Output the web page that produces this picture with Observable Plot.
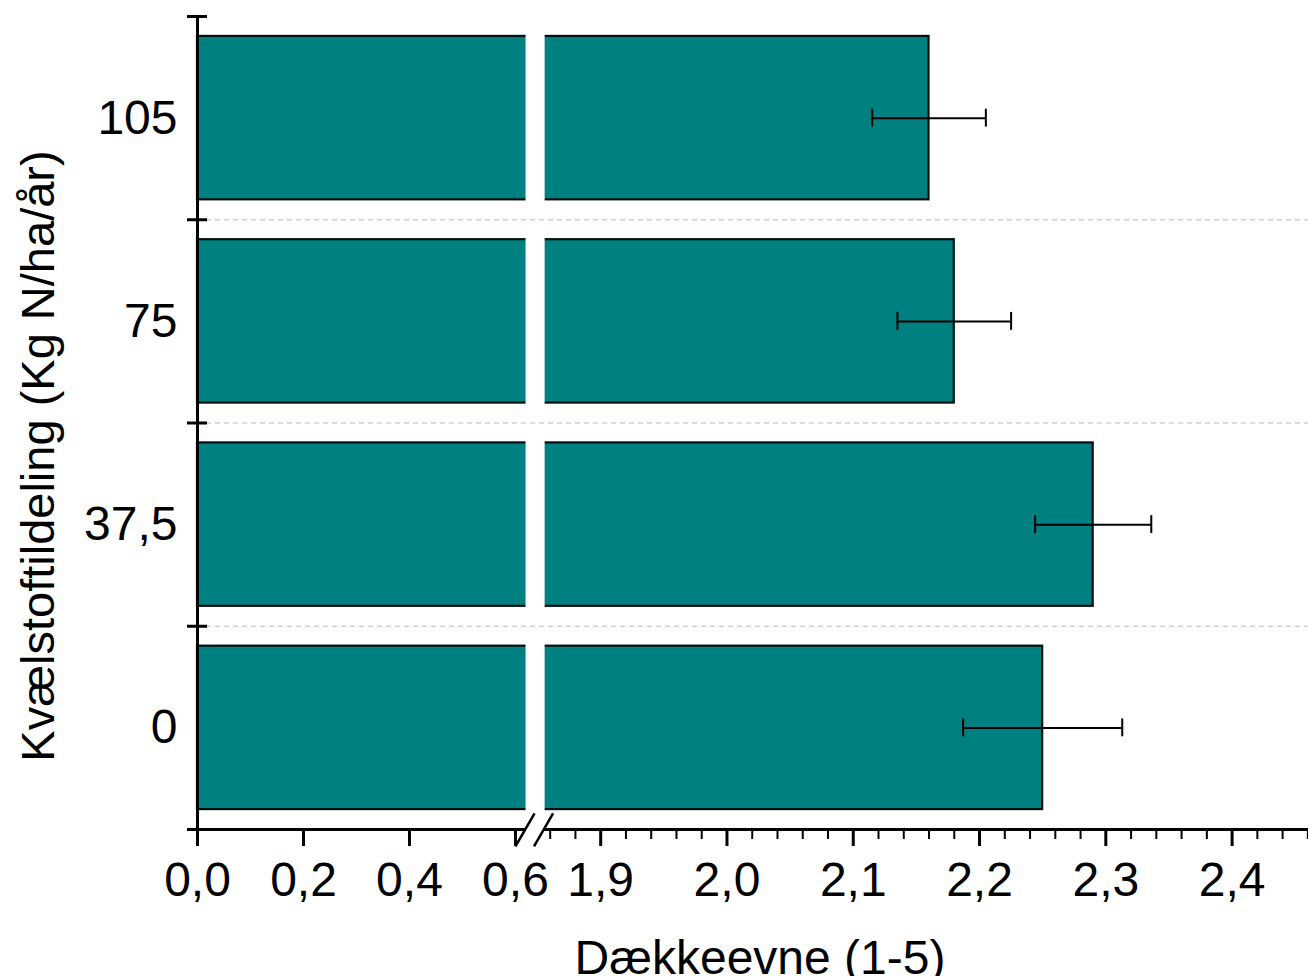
<!DOCTYPE html>
<html>
<head>
<meta charset="utf-8">
<script src="https://cdn.jsdelivr.net/npm/d3@7"></script>
<script src="https://cdn.jsdelivr.net/npm/@observablehq/plot@0.6"></script>
<style>
  html, body { margin: 0; padding: 0; background: white; }
</style>
</head>
<body>
<script>
// ---- Data ----
const categories = ["105", "75", "37,5", "0"];          // top to bottom
const means = [2.16, 2.18, 2.29, 2.25];                  // Dækkeevne (1-5)
const errors = [0.045, 0.045, 0.046, 0.063];             // error bar half-widths
const leftTicks = [0, 0.2, 0.4, 0.6];
const rightTicks = [1.9, 2.0, 2.1, 2.2, 2.3, 2.4];
const xTitle = "Dækkeevne (1-5)";
const yTitle = "Kvælstoftildeling (Kg N/ha/år)";

// ---- Broken axis mapping ----
const leftCut = 0.62;      // left segment ends
const rightStart = 1.856;  // right segment starts
const gap = 0.036;         // gap width (in left-segment units)
const ratio = 2.383;       // right-segment stretch relative to left
const u = v => v <= 1 ? v : leftCut + gap + (v - rightStart) * ratio;
const uMax = u(2.4605);

const rows = categories.map((c, i) => ({
  cat: c, pos: categories.length - 1 - i, mean: means[i], err: errors[i]
}));

const fmt = v => v.toFixed(1).replace(".", ",");
const majorU = [...leftTicks.map(u), ...rightTicks.map(u)];
const majorLabels = new Map(majorU.map((m, i) => [m, fmt([...leftTicks, ...rightTicks][i])]));
const minorU = d3.range(93, 124).map(k => k * 0.02)
  .filter(v => Math.abs(Math.round(v * 10) - v * 10) > 1e-6)
  .map(u);

const inset = 0.098;
const capH = 0.044;
const pxX = 1 / 530; // one pixel in u units (approx)

const font = "'Liberation Sans', Arial, sans-serif";

const chart = Plot.plot({
  width: 1308,
  height: 976,
  marginLeft: 197,
  marginRight: 0,
  marginTop: 16,
  marginBottom: 147,
  style: { fontFamily: font, background: "white", color: "black" },
  x: { domain: [0, uMax] },
  y: { domain: [0, 4] },
  marks: [
    Plot.ruleY([1, 2, 3], { stroke: "#d0d0d0", strokeWidth: 1.5, strokeDasharray: "5,4" }),
    Plot.rect(rows, {
      x1: 0, x2: d => u(d.mean),
      y1: d => d.pos + inset, y2: d => d.pos + 1 - inset,
      fill: "#008080", stroke: "#041010", strokeWidth: 2.2
    }),
    Plot.rect(rows, {
      x1: leftCut, x2: leftCut + gap,
      y1: d => d.pos + inset - 0.012, y2: d => d.pos + 1 - inset + 0.012,
      fill: "white"
    }),
    Plot.ruleY(rows, {
      y: d => d.pos + 0.5, x1: d => u(d.mean - d.err), x2: d => u(d.mean + d.err),
      stroke: "black", strokeWidth: 2
    }),
    Plot.ruleX(rows, {
      x: d => u(d.mean - d.err), y1: d => d.pos + 0.5 - capH, y2: d => d.pos + 0.5 + capH,
      stroke: "black", strokeWidth: 2
    }),
    Plot.ruleX(rows, {
      x: d => u(d.mean + d.err), y1: d => d.pos + 0.5 - capH, y2: d => d.pos + 0.5 + capH,
      stroke: "black", strokeWidth: 2
    }),
    // y axis line and boundary ticks
    Plot.ruleX([0], { y1: 0, y2: 4, stroke: "black", strokeWidth: 3 }),
    Plot.ruleY([0, 1, 2, 3, 4], { x1: 0, x2: 20 * pxX, dx: -10, stroke: "black", strokeWidth: 3 }),
    // x axis line (broken)
    Plot.ruleY([0], { x1: 0, x2: leftCut - 0.002, stroke: "black", strokeWidth: 3 }),
    Plot.ruleY([0], { x1: leftCut + gap - 0.003, x2: uMax, stroke: "black", strokeWidth: 3 }),
    // break marks
    Plot.link([leftCut - 0.002, leftCut + gap - 0.003], {
      x1: d => d - 0.018, y1: -0.083, x2: d => d + 0.018, y2: 0.079,
      stroke: "black", strokeWidth: 2.5
    }),
    // x axis ticks
    Plot.axisX({
      ticks: majorU, tickSize: 17, tickPadding: 15, strokeWidth: 3,
      tickFormat: d => majorLabels.get(d), fontSize: 48, label: null
    }),
    Plot.axisX({
      ticks: minorU, tickSize: 10, strokeWidth: 2, text: null, label: null
    }),
    // y tick labels
    Plot.axisY({
      ticks: rows.map(d => d.pos + 0.5), tickSize: 0, tickPadding: 20,
      tickFormat: d => rows.find(r => r.pos + 0.5 === d).cat, fontSize: 48, label: null
    }),
    // titles
    Plot.text([xTitle], {
      frameAnchor: "bottom", text: d => d, dx: 7, dy: 129, fontSize: 48, lineAnchor: "middle"
    }),
    Plot.text([yTitle], {
      frameAnchor: "left", text: d => d, rotate: -90, dx: -159, dy: 33, fontSize: 47,
      lineAnchor: "middle", textAnchor: "middle"
    })
  ]
});
document.body.appendChild(chart);
</script>
</body>
</html>
